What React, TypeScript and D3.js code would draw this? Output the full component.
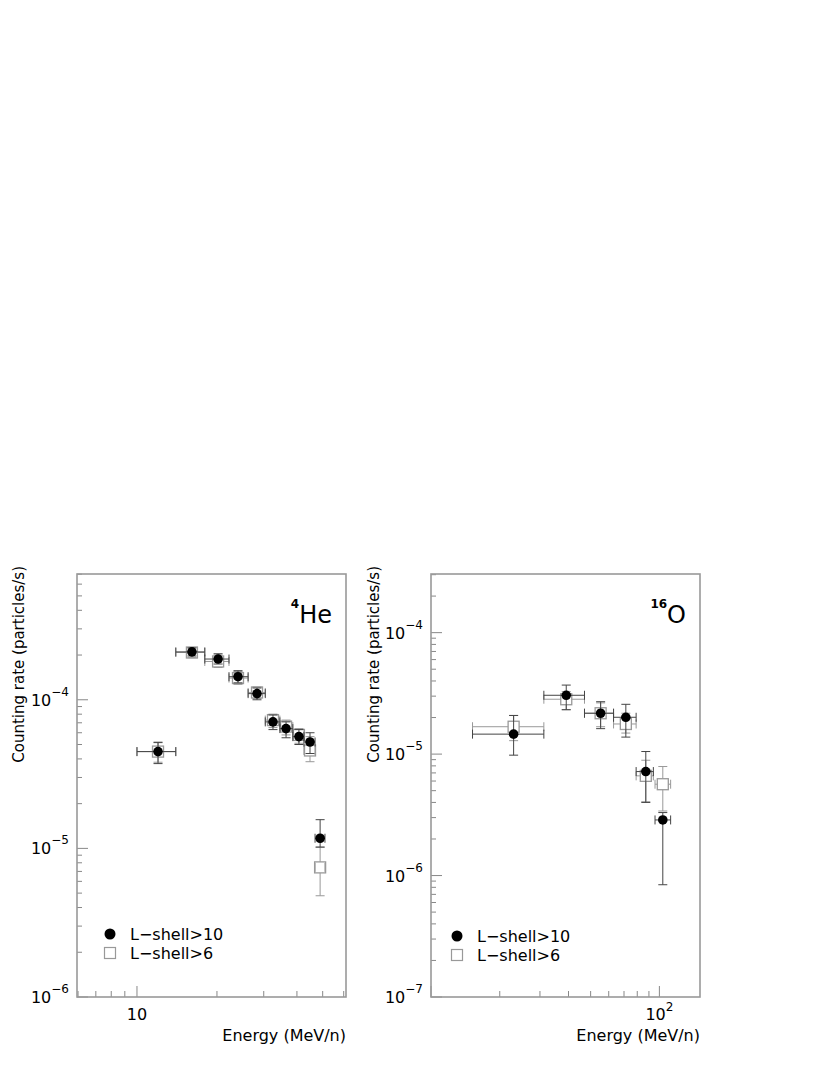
import React from 'react';
import * as d3 from 'd3';

// 4He panel
const heEnergy = [12.0, 16.1, 20.2, 24.0, 28.3, 32.5, 36.4, 40.7, 44.8, 48.9];
const heEnergyLo = [10.0, 14.0, 18.0, 22.2, 26.2, 30.4, 34.5, 38.6, 42.5, 46.8];
const heEnergyHi = [14.0, 18.0, 22.2, 26.2, 30.4, 34.5, 38.6, 42.5, 46.8, 51.0];
const heRate10 = [4.48e-5, 2.1e-4, 1.88e-4, 1.43e-4, 1.1e-4, 7.1e-5, 6.4e-5, 5.65e-5, 5.2e-5, 1.17e-5];
const heRate10Lo = [3.72e-5, 1.97e-4, 1.74e-4, 1.3e-4, 1.0e-4, 6.3e-5, 5.55e-5, 5.0e-5, 4.35e-5, 1.02e-5];
const heRate10Hi = [5.15e-5, 2.23e-4, 2.04e-4, 1.57e-4, 1.2e-4, 7.9e-5, 7.1e-5, 6.3e-5, 6.0e-5, 1.56e-5];
const heRate6 = [4.48e-5, 2.08e-4, 1.81e-4, 1.4e-4, 1.12e-4, 7.3e-5, 6.6e-5, 5.8e-5, 4.56e-5, 7.45e-6];
const heRate6Lo = [3.8e-5, 1.92e-4, 1.65e-4, 1.27e-4, 1.02e-4, 6.5e-5, 5.8e-5, 5.1e-5, 3.83e-5, 4.8e-6];
const heRate6Hi = [5.2e-5, 2.25e-4, 2.0e-4, 1.55e-4, 1.22e-4, 8.0e-5, 7.3e-5, 6.4e-5, 5.65e-5, 1.02e-5];

// 16O panel
const oEnergy = [23.0, 39.1, 55.3, 71.3, 87.2, 103.5];
const oEnergyLo = [15.2, 31.2, 47.0, 63.0, 79.1, 95.7];
const oEnergyHi = [31.2, 47.0, 63.0, 79.1, 94.1, 112.0];
const oRate10 = [1.46e-5, 3.05e-5, 2.17e-5, 2.01e-5, 7.18e-6, 2.87e-6];
const oRate10Lo = [9.8e-6, 2.32e-5, 1.62e-5, 1.38e-5, 4.0e-6, 8.4e-7];
const oRate10Hi = [2.08e-5, 3.7e-5, 2.7e-5, 2.57e-5, 1.05e-5, 3.3e-6];
const oRate6 = [1.68e-5, 2.83e-5, 2.17e-5, 1.77e-5, 6.62e-6, 5.65e-6];
const oRate6Lo = [1.29e-5, 2.32e-5, 1.68e-5, 1.49e-5, 4.05e-6, 3.4e-6];
const oRate6Hi = [2.08e-5, 3.27e-5, 2.64e-5, 2.17e-5, 8.9e-6, 7.9e-6];

const legendLabels = ['L\u2212shell>10', 'L\u2212shell>6'];
const yTitle = 'Counting rate (particles/s)';
const xTitle = 'Energy (MeV/n)';

const font = '"DejaVu Sans", sans-serif';
const frameColor = '#999';
const darkBar = '#444';
const grayBar = '#999';

type Series = { e: number[]; lo: number[]; hi: number[]; r: number[]; rlo: number[]; rhi: number[] };

type PanelProps = {
  left: number;
  right: number;
  xDomain: [number, number];
  yDomain: [number, number];
  xLabels: { v: number; base: string; sup?: string }[];
  yDecades: number[];
  full: Series;
  open: Series;
  mass: string;
  element: string;
  legendX: number;
  legendY: number;
  titleX: number;
};

const top = 574;
const bottom = 997;

// decade + 2..9 ticks inside a log domain
const logTicks = (domain: [number, number]) => {
  const out: { v: number; major: boolean }[] = [];
  for (let p = Math.floor(Math.log10(domain[0])); p <= Math.ceil(Math.log10(domain[1])); p++) {
    for (let k = 1; k < 10; k++) {
      const v = k * Math.pow(10, p);
      if (v > domain[0] * 1.001 && v < domain[1] * 0.999) out.push({ v, major: k === 1 });
      else if (Math.abs(v - domain[0]) / v < 0.01 && k === 1) out.push({ v, major: true });
    }
  }
  return out;
};

const Panel = (p: PanelProps) => {
  const x = d3.scaleLog().domain(p.xDomain).range([p.left, p.right]);
  const y = d3.scaleLog().domain(p.yDomain).range([bottom, top]);
  const xt = logTicks(p.xDomain);
  const yt = logTicks(p.yDomain);
  const cap = 4.5;
  const half = 5.5;

  const bars = (s: Series, color: string, gap: number) =>
    s.e.map((e, i) => {
      const cx = x(e);
      const cy = y(s.r[i]);
      const x0 = x(s.lo[i]);
      const x1 = x(s.hi[i]);
      const y0 = y(s.rhi[i]);
      const y1 = y(s.rlo[i]);
      return (
        <g key={i} stroke={color} strokeWidth={1} fill="none">
          <line x1={x0} x2={Math.max(x0, cx - gap)} y1={cy} y2={cy} />
          <line x1={Math.min(x1, cx + gap)} x2={x1} y1={cy} y2={cy} />
          <line x1={x0} x2={x0} y1={cy - cap} y2={cy + cap} />
          <line x1={x1} x2={x1} y1={cy - cap} y2={cy + cap} />
          <line x1={cx} x2={cx} y1={y0} y2={Math.max(y0, cy - gap)} />
          <line x1={cx} x2={cx} y1={Math.min(y1, cy + gap)} y2={y1} />
          <line x1={cx - cap} x2={cx + cap} y1={y0} y2={y0} />
          <line x1={cx - cap} x2={cx + cap} y1={y1} y2={y1} />
        </g>
      );
    });

  return (
    <g fontFamily={font}>
      {yt.map((t, i) => (
        <line key={'y' + i} x1={p.left} x2={p.left + (t.major ? 11 : 5)} y1={y(t.v)} y2={y(t.v)} stroke="#888" strokeWidth={1} />
      ))}
      {xt.map((t, i) => (
        <line key={'x' + i} x1={x(t.v)} x2={x(t.v)} y1={bottom} y2={bottom - (t.major ? 11 : 6)} stroke="#888" strokeWidth={1} />
      ))}
      {p.yDecades.map((d) => (
        <text key={'yl' + d} x={p.left - 8} y={y(Math.pow(10, d)) + 6} textAnchor="end" fontSize={16} fill="#000">
          10<tspan fontSize={12} dy={-10}>{'\u2212' + Math.abs(d)}</tspan>
        </text>
      ))}
      {p.xLabels.map((l) => (
        <text key={'xl' + l.v} x={x(l.v)} y={1020} textAnchor="middle" fontSize={16} fill="#000">
          {l.base}
          {l.sup && <tspan fontSize={12} dy={-9}>{l.sup}</tspan>}
        </text>
      ))}
      <text x={p.right} y={1041} textAnchor="end" fontSize={16}>{xTitle}</text>
      <text transform={`translate(${p.titleX},566) rotate(-90)`} textAnchor="end" fontSize={15}>{yTitle}</text>

      {/* open squares */}
      {bars(p.open, grayBar, half)}
      {p.open.e.map((e, i) => (
        <rect key={'s' + i} x={x(e) - half} y={y(p.open.r[i]) - half} width={half * 2} height={half * 2} fill="none" stroke={grayBar} strokeWidth={1.3} />
      ))}
      {/* filled circles */}
      {bars(p.full, darkBar, 0)}
      {p.full.e.map((e, i) => (
        <circle key={'c' + i} cx={x(e)} cy={y(p.full.r[i])} r={4.8} fill="#000" />
      ))}

      <text x={p.right - 14} y={623} textAnchor="end" fontSize={24}>
        <tspan fontSize={12} fontWeight="bold" dy={-15}>{p.mass}</tspan>
        <tspan dy={15}>{p.element}</tspan>
      </text>

      <circle cx={p.legendX} cy={p.legendY} r={5.5} fill="#000" />
      <rect x={p.legendX - 5.5} y={p.legendY + 19 - 5.5} width={11} height={11} fill="none" stroke={grayBar} strokeWidth={1.2} />
      <text x={p.legendX + 20} y={p.legendY + 5.5} fontSize={16}>{legendLabels[0]}</text>
      <text x={p.legendX + 20} y={p.legendY + 25} fontSize={16}>{legendLabels[1]}</text>

      <rect x={p.left} y={top} width={p.right - p.left} height={bottom - top} fill="none" stroke={frameColor} strokeWidth={1.6} />
    </g>
  );
};

const App = () => (
  <svg width={830} height={1075} style={{ position: 'absolute', left: 0, top: 0 }}>
    <rect width={830} height={1075} fill="#fff" />
    <Panel
      left={77}
      right={346}
      xDomain={[5.946, 61.2]}
      yDomain={[1e-6, 7.02e-4]}
      xLabels={[{ v: 10, base: '10' }]}
      yDecades={[-4, -5, -6]}
      full={{ e: heEnergy, lo: heEnergyLo, hi: heEnergyHi, r: heRate10, rlo: heRate10Lo, rhi: heRate10Hi }}
      open={{ e: heEnergy, lo: heEnergyLo, hi: heEnergyHi, r: heRate6, rlo: heRate6Lo, rhi: heRate6Hi }}
      mass="4"
      element="He"
      legendX={110}
      legendY={934}
      titleX={24}
    />
    <Panel
      left={431}
      right={700}
      xDomain={[10, 150.6]}
      yDomain={[1e-7, 3.04e-4]}
      xLabels={[{ v: 100, base: '10', sup: '2' }]}
      yDecades={[-4, -5, -6, -7]}
      full={{ e: oEnergy, lo: oEnergyLo, hi: oEnergyHi, r: oRate10, rlo: oRate10Lo, rhi: oRate10Hi }}
      open={{ e: oEnergy, lo: oEnergyLo, hi: oEnergyHi, r: oRate6, rlo: oRate6Lo, rhi: oRate6Hi }}
      mass="16"
      element="O"
      legendX={457}
      legendY={936}
      titleX={379}
    />
  </svg>
);

export default App;
